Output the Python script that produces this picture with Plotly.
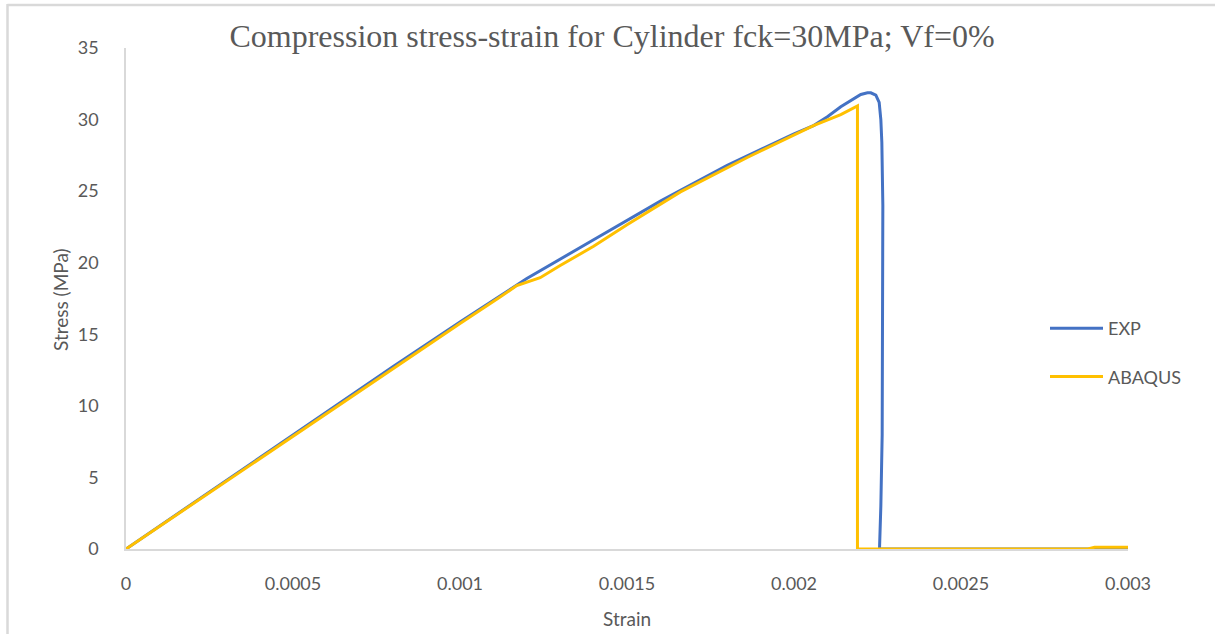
import plotly.graph_objects as go

# EXP series (strain, stress MPa)
exp_strain = [0, 0.0002, 0.0004, 0.0006, 0.0008, 0.001, 0.0012, 0.0014, 0.0016, 0.0018,
              0.002, 0.00206, 0.0021, 0.00214, 0.00218, 0.0022, 0.00222, 0.00223, 0.002245,
              0.002255, 0.00226, 0.002263, 0.002266, 0.002266, 0.002264, 0.00226, 0.002256,
              0.0025, 0.0028, 0.003]
exp_stress = [0, 3.2, 6.4, 9.6, 12.75, 15.85, 18.9, 21.6, 24.3, 26.8,
              29.0, 29.6, 30.2, 30.9, 31.5, 31.75, 31.87, 31.87, 31.7,
              31.2, 30.0, 28.4, 24.0, 16.0, 8.0, 3.0, 0,
              0, 0, 0]

# ABAQUS series
abq_strain = [0, 0.0002, 0.0004, 0.0006, 0.0008, 0.001, 0.00112, 0.00117, 0.00124, 0.0013,
              0.0014, 0.0015, 0.00166, 0.00186, 0.00206, 0.00214, 0.00219, 0.00219,
              0.0025, 0.00288, 0.0029, 0.003]
abq_stress = [0, 3.15, 6.35, 9.5, 12.65, 15.75, 17.6, 18.4, 18.95, 19.8,
              21.15, 22.65, 24.95, 27.35, 29.6, 30.35, 30.95, 0,
              0, 0, 0.12, 0.12]

x_ticks = [0, 0.0005, 0.001, 0.0015, 0.002, 0.0025, 0.003]
x_tick_labels = ["0", "0.0005", "0.001", "0.0015", "0.002", "0.0025", "0.003"]
y_ticks = [0, 5, 10, 15, 20, 25, 30, 35]

W, H = 1215, 634
L, R, T, B = 126, 87, 48, 85
pw, ph = W - L - R, H - T - B

def px_x(p):
    return (p - L) / pw

def px_y(p):
    return (H - B - p) / ph

grey = "#595959"
fnt = "Lato"

fig = go.Figure()
fig.add_trace(go.Scatter(x=exp_strain, y=exp_stress, mode="lines", name="EXP",
                         line=dict(color="#4472C4", width=3), legendgroup="a"))
fig.add_trace(go.Scatter(x=abq_strain, y=abq_stress, mode="lines", name="ABAQUS",
                         line=dict(color="#FFC000", width=3), legendgroup="b"))

fig.update_layout(
    width=W, height=H,
    margin=dict(l=L, r=R, t=T, b=B),
    paper_bgcolor="white", plot_bgcolor="white",
    title=dict(text="Compression stress-strain for Cylinder fck=30MPa; Vf=0%",
               font=dict(family="Liberation Serif", size=32, color=grey),
               x=612 / W, xanchor="center", y=1 - 36 / H, yanchor="middle"),
    xaxis=dict(range=[0, 0.003], tickvals=x_ticks, ticktext=x_tick_labels,
               showgrid=False, zeroline=False, showline=True, linecolor="#d9d9d9",
               linewidth=1.5, ticks="", ticklabelstandoff=18,
               tickfont=dict(family=fnt, size=18, color=grey)),
    yaxis=dict(range=[0, 35], tickvals=y_ticks, showgrid=False, zeroline=False,
               showline=True, linecolor="#d9d9d9", linewidth=1.5, ticks="",
               ticklabelstandoff=22,
               tickfont=dict(family=fnt, size=18, color=grey)),
    legend=dict(x=px_x(1045), xanchor="left", y=px_y(310), yanchor="top",
                font=dict(family=fnt, size=18, color=grey), bgcolor="rgba(0,0,0,0)",
                tracegroupgap=22, itemwidth=53),
    showlegend=True,
)

fig.add_annotation(text="Strain", x=px_x(627), y=px_y(618), xref="paper", yref="paper",
                   showarrow=False, font=dict(family=fnt, size=19, color=grey),
                   xanchor="center", yanchor="middle")
fig.add_annotation(text="Stress (MPa)", x=px_x(60), y=px_y(300), xref="paper", yref="paper",
                   showarrow=False, textangle=-90, font=dict(family=fnt, size=19, color=grey),
                   xanchor="center", yanchor="middle")

# outer frame of the chart area
fig.add_shape(type="line", xref="paper", yref="paper", x0=px_x(7.5), x1=px_x(7.5),
              y0=px_y(4), y1=px_y(640), line=dict(color="#d9d9d9", width=2.5))
fig.add_shape(type="line", xref="paper", yref="paper", x0=px_x(7.5), x1=px_x(1220),
              y0=px_y(5), y1=px_y(5), line=dict(color="#d9d9d9", width=2.5))

fig.write_html("out.html")
